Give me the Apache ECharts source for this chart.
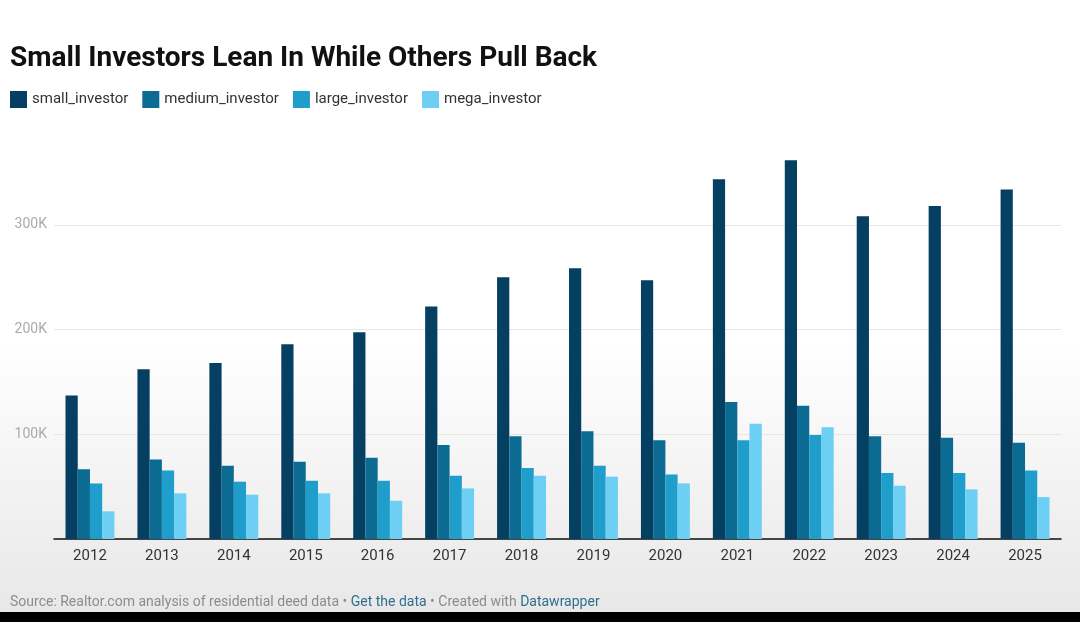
<!DOCTYPE html>
<html>
<head>
<meta charset="utf-8">
<script src="https://cdn.jsdelivr.net/npm/echarts@6/dist/echarts.min.js"></script>
<style>
  html, body { margin: 0; padding: 0; }
  #container { width: 1080px; height: 622px; }
</style>
</head>
<body>
<div id="container"></div>
<script>
var dom = document.getElementById("container");
var myChart = echarts.init(dom, null, { renderer: "canvas" });

const years = ["2012", "2013", "2014", "2015", "2016", "2017", "2018", "2019", "2020", "2021", "2022", "2023", "2024", "2025"];
const smallInvestor = [137000, 162000, 168000, 186000, 197500, 222000, 250000, 258600, 247000, 343500, 361600, 308200, 318000, 333700];
const mediumInvestor = [66500, 76000, 70000, 73800, 77600, 89700, 98000, 102800, 94200, 130700, 127200, 98000, 96700, 91900];
const largeInvestor = [53000, 65500, 54700, 55600, 55600, 60400, 67700, 70000, 61700, 94200, 99200, 63000, 63000, 65500];
const megaInvestor = [26400, 43600, 42300, 43600, 36500, 48300, 60400, 59500, 53100, 110000, 106600, 50900, 47400, 40000];

const seriesNames = ["small_investor", "medium_investor", "large_investor", "mega_investor"];
const seriesColors = ["#053f61", "#0c6b93", "#1f9dcb", "#6dcff3"];
const seriesData = [smallInvestor, mediumInvestor, largeInvestor, megaInvestor];

const font = "Roboto";

var option = {
  backgroundColor: {
    type: "linear", x: 0, y: 0, x2: 0, y2: 1,
    colorStops: [
      { offset: 0, color: "#ffffff" },
      { offset: 0.55, color: "#ffffff" },
      { offset: 1, color: "#e7e7e7" },
    ],
  },
  animation: false,
  title: {
    text: "Small Investors Lean In While Others Pull Back",
    left: 10,
    top: 45,
    padding: 0,
    textStyle: { fontFamily: font, fontWeight: "bold", fontSize: 28, color: "#111" },
  },
  legend: {
    left: 10,
    top: 91,
    padding: 0,
    icon: "rect",
    itemWidth: 17,
    itemHeight: 17,
    itemGap: 14,
    textStyle: { fontFamily: font, fontSize: 15, color: "#333" },
    data: seriesNames,
  },
  grid: { left: 54, right: 19, top: 141, bottom: 83 },
  xAxis: {
    type: "category",
    data: years,
    axisTick: { show: false },
    axisLine: { lineStyle: { color: "#111", width: 1.5 } },
    axisLabel: { fontFamily: font, fontSize: 15, color: "#333", margin: 10 },
  },
  yAxis: {
    type: "value",
    min: 0,
    max: 380000,
    interval: 100000,
    axisLine: { show: false },
    axisTick: { show: false },
    axisLabel: {
      fontFamily: font,
      fontSize: 14,
      color: "#aaa",
      margin: 7,
      showMinLabel: false,
      showMaxLabel: false,
      formatter: function (v) {
        return v / 1000 + "K";
      },
    },
    splitLine: { showMaxLine: false, lineStyle: { color: "#e6e6e6" } },
  },
  series: seriesNames.map(function (name, i) {
    return {
      name: name,
      type: "bar",
      data: seriesData[i],
      barGap: "0%",
      barCategoryGap: "32%",
      itemStyle: { color: seriesColors[i] },
    };
  }),
  graphic: {
    elements: [
      {
        type: "text",
        left: 10,
        top: 595,
        style: {
          text: "{g|Source: Realtor.com analysis of residential deed data • }{l|Get the data}{g| • Created with }{l|Datawrapper}",
          rich: {
            g: { fontFamily: font, fontSize: 14, fill: "#8c8c8c" },
            l: { fontFamily: font, fontSize: 14, fill: "#2f6f8f" },
          },
        },
      },
      {
        type: "rect",
        left: 0,
        top: 612,
        shape: { width: 1080, height: 10 },
        style: { fill: "#000" },
      },
    ],
  },
};

myChart.setOption(option);
window.addEventListener("resize", myChart.resize);
</script>
</body>
</html>
